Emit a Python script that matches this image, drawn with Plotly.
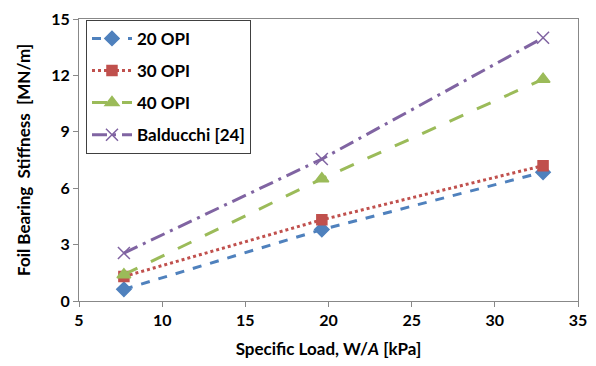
import plotly.graph_objects as go

# Specific load W/A [kPa] and measured stiffness [MN/m]
load = [7.7, 19.6, 32.9]
opi20 = [0.62, 3.8, 6.85]
opi30 = [1.3, 4.32, 7.2]
opi40 = [1.4, 6.5, 11.8]
balducchi = [2.55, 7.55, 14.0]

series = [
    ("20 OPI", opi20, "#4F81BD", "dash", "diamond", 11),
    ("30 OPI", opi30, "#C0504D", "dot", "square", 10),
    ("40 OPI", opi40, "#9BBB59", "longdash", "triangle-up", 12),
    ("Balducchi [24]", balducchi, "#8064A2", "longdashdot", "x-thin-open", 12),
]

fig = go.Figure()
for i, (name, vals, color, dash, sym, size) in enumerate(series):
    fig.add_trace(go.Scatter(
        x=load, y=vals, name=name, mode="lines+markers",
        legendgroup=f"g{i}",
        line=dict(color=color, width=3, dash=dash),
        marker=dict(symbol=sym, size=size, color=color,
                    line=dict(color=color, width=1.5)),
    ))

font_family = "Lato, 'Open Sans', sans-serif"
fig.update_layout(
    width=596, height=366,
    margin=dict(l=79, r=9, t=13, b=65),
    paper_bgcolor="white", plot_bgcolor="white",
    font=dict(family=font_family, size=16, color="black"),
    showlegend=True,
    legend=dict(
        x=0.014, y=0.997, xanchor="left", yanchor="top",
        bordercolor="#404040", borderwidth=1, bgcolor="white",
        font=dict(family=font_family, size=17, color="black", weight="bold"),
        itemwidth=40, traceorder="grouped", tracegroupgap=7,
    ),
    xaxis=dict(
        range=[5, 35], tick0=5, dtick=5,
        showgrid=False, zeroline=False,
        showline=True, linecolor="#888888", linewidth=1, mirror=True,
        ticks="outside", ticklen=5, tickcolor="#888888",
        tickfont=dict(size=16, weight="bold"),
        title=dict(text="Specific Load, W/<i>A</i> [kPa]",
                   font=dict(size=17, weight="bold"), standoff=14),
    ),
    yaxis=dict(
        range=[0, 15], tick0=0, dtick=3,
        showgrid=False, zeroline=False,
        showline=True, linecolor="#888888", linewidth=1, mirror=True,
        ticks="outside", ticklen=5, tickcolor="#888888",
        tickfont=dict(size=16, weight="bold"),
        title=dict(text="Foil Bearing\u00a0\u00a0Stiffness\u00a0\u00a0[MN/m]",
                   font=dict(size=17, weight="bold"), standoff=16),
    ),
)

fig.write_html("out.html")
